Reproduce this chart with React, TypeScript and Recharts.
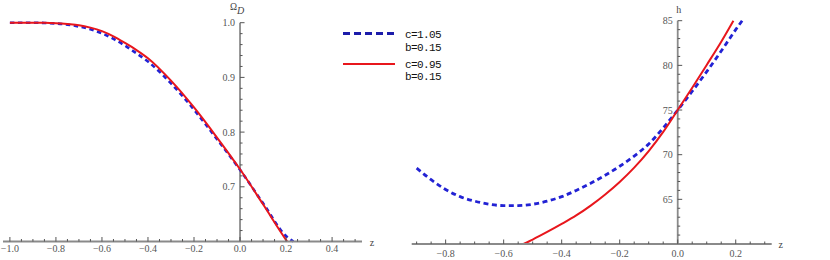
import React from 'react';
import { LineChart, Line, XAxis, YAxis, ReferenceLine, ReferenceDot, Legend } from 'recharts';

// ---- Left panel: Omega_D vs z ----
const zLeftBlue = [-1.0, -0.9, -0.85, -0.8, -0.75, -0.7, -0.65, -0.6, -0.55, -0.5, -0.45, -0.4, -0.3, -0.2, -0.1, 0.0, 0.1, 0.2, 0.232];
const omegaBlue = [1.0, 1.0, 0.9995, 0.9985, 0.9965, 0.993, 0.988, 0.9805, 0.9705, 0.958, 0.944, 0.929, 0.889, 0.841, 0.787, 0.731, 0.670, 0.610, 0.6];
const zLeftRed = [-1.0, -0.9, -0.85, -0.8, -0.75, -0.7, -0.65, -0.6, -0.55, -0.5, -0.45, -0.4, -0.3, -0.2, -0.1, 0.0, 0.1, 0.2, 0.205];
const omegaRed = [1.0, 1.0, 0.9998, 0.999, 0.9975, 0.9955, 0.991, 0.9845, 0.975, 0.963, 0.950, 0.935, 0.894, 0.845, 0.790, 0.732, 0.668, 0.603, 0.6];

// ---- Right panel: h vs z ----
const zRightBlue = [-0.9, -0.85, -0.8, -0.75, -0.7, -0.65, -0.6, -0.55, -0.5, -0.45, -0.4, -0.35, -0.3, -0.25, -0.2, -0.15, -0.1, -0.05, 0.0, 0.05, 0.1, 0.15, 0.2, 0.222];
const hBlue = [68.5, 67.2, 66.1, 65.3, 64.8, 64.45, 64.3, 64.3, 64.45, 64.8, 65.3, 66.0, 66.8, 67.7, 68.7, 69.85, 71.2, 73.0, 75.0, 77.1, 79.3, 81.6, 84.0, 85.0];
const zRightRed = [-0.532, -0.5, -0.45, -0.4, -0.35, -0.3, -0.25, -0.2, -0.15, -0.1, -0.05, 0.0, 0.05, 0.1, 0.15, 0.192];
const hRed = [60.0, 60.5, 61.35, 62.25, 63.2, 64.3, 65.55, 66.95, 68.55, 70.4, 72.55, 75.0, 77.5, 80.05, 82.65, 85.0];

// ---- Ticks ----
const leftXMajor = [-1.0, -0.8, -0.6, -0.4, -0.2, 0.0, 0.2, 0.4];
const leftYMajor = [0.7, 0.8, 0.9, 1.0];
const rightXMajor = [-0.8, -0.6, -0.4, -0.2, 0.0, 0.2];
const rightYMajor = [65, 70, 75, 80, 85];

const legendLabels = [
  ['c=1.05', 'b=0.15'],
  ['c=0.95', 'b=0.15'],
];

const range = (a: number, b: number, step: number) => {
  const out: number[] = [];
  const n = Math.round((b - a) / step);
  for (let i = 0; i <= n; i++) out.push(Math.round((a + i * step) * 1000) / 1000);
  return out;
};
const leftXTicks = range(-1.0, 0.5, 0.05);
const leftYTicks = range(0.62, 1.0, 0.02);
const rightXTicks = range(-0.9, 0.3, 0.05);
const rightYTicks = range(61, 85, 1);

const pts = (xs: number[], ys: number[]) => xs.map((z, i) => ({ z, v: ys[i] }));

const BLUE = '#2222d4';
const RED = '#e8161c';
const AXIS = '#8a8a8a';
const TICK = '#555';
const LABEL = '#555';
const serifStyle = { fontFamily: '"Liberation Serif", "DejaVu Serif", serif' };
const monoStyle = { fontFamily: '"Liberation Mono", "DejaVu Sans Mono", monospace' };

const isIn = (arr: number[], v: number) => arr.some((m) => Math.abs(m - v) < 1e-6);
const fmt1 = (v: number) => (v < 0 ? '\u2212' : '') + Math.abs(v).toFixed(1);

const makeXTick = (majors: number[], labelDy: number) => (props: any) => {
  const { x, y, payload } = props;
  const v = payload.value;
  const major = isIn(majors, v);
  return (
    <g>
      <line x1={x} x2={x} y1={y} y2={y - (major ? 4.5 : 2.5)} stroke={TICK} strokeWidth={1} />
      {major && (
        <text x={x} y={y + labelDy} textAnchor="middle" fontSize={10} fill={LABEL} style={serifStyle}>
          {fmt1(v)}
        </text>
      )}
    </g>
  );
};

const makeYTick = (major: boolean, label: string) => (props: any) => {
  const { cx, cy } = props;
  return (
    <g>
      <line x1={cx} x2={cx + (major ? 4.5 : 2.5)} y1={cy} y2={cy} stroke={TICK} strokeWidth={1} />
      {major && (
        <text x={cx - 5} y={cy + 3.5} textAnchor="end" fontSize={10} fill={LABEL} style={serifStyle}>
          {label}
        </text>
      )}
    </g>
  );
};

const LegendBox = () => (
  <svg width={120} height={62}>
    <line x1={3} x2={55} y1={9.5} y2={9.5} stroke="#1c1caa" strokeWidth={3} strokeDasharray="7 4" />
    <line x1={3} x2={55} y1={40} y2={40} stroke={RED} strokeWidth={2} />
    <text x={65} y={14} fontSize={11} fill="#111" letterSpacing={-0.6} style={monoStyle}>{legendLabels[0][0]}</text>
    <text x={65} y={26.5} fontSize={11} fill="#111" letterSpacing={-0.6} style={monoStyle}>{legendLabels[0][1]}</text>
    <text x={65} y={43.5} fontSize={11} fill="#111" letterSpacing={-0.6} style={monoStyle}>{legendLabels[1][0]}</text>
    <text x={65} y={56} fontSize={11} fill="#111" letterSpacing={-0.6} style={monoStyle}>{legendLabels[1][1]}</text>
  </svg>
);

export default function App() {
  return (
    <div style={{ position: 'absolute', left: 0, top: 0, width: 830, height: 260, background: '#fff' }}>
      <div style={{ position: 'absolute', left: 0, top: 0 }}>
        <LineChart width={375} height={260} margin={{ top: 22.7, right: 13, bottom: 2.5, left: 3 }}>
          <XAxis
            type="number"
            dataKey="z"
            domain={[-1.03, 0.53]}
            ticks={leftXTicks}
            interval={0}
            tickSize={0}
            tickMargin={0}
            tickLine={false}
            axisLine={{ stroke: AXIS, strokeWidth: 1.8 }}
            tick={makeXTick(leftXMajor, 10)}
            height={16}
          />
          <YAxis type="number" dataKey="v" domain={[0.6, 1.0]} hide />
          <ReferenceLine x={0} stroke={AXIS} strokeWidth={1.8} />
          {leftYTicks.map((v) => (
            <ReferenceDot key={'ly' + v} x={0} y={v} r={0} shape={makeYTick(isIn(leftYMajor, v), v.toFixed(1))} />
          ))}
          <ReferenceDot
            x={0}
            y={1.0}
            r={0}
            shape={(p: any) => (
              <text x={p.cx - 10} y={p.cy - 13} fontSize={9.5} fill="#444" style={serifStyle}>
                Ω
                <tspan dy={4.5} fontStyle="italic" fontSize={10}>D</tspan>
              </text>
            )}
          />
          <ReferenceDot
            x={0.53}
            y={0.6}
            r={0}
            shape={(p: any) => (
              <text x={p.cx + 10} y={p.cy + 4} textAnchor="middle" fontSize={10} fill="#444" style={serifStyle}>
                z
              </text>
            )}
          />
          <Line
            data={pts(zLeftBlue, omegaBlue)}
            dataKey="v"
            type="monotone"
            stroke={BLUE}
            strokeWidth={2.6}
            strokeDasharray="4.5 3.5"
            dot={false}
            isAnimationActive={false}
          />
          <Line
            data={pts(zLeftRed, omegaRed)}
            dataKey="v"
            type="monotone"
            stroke={RED}
            strokeWidth={2}
            dot={false}
            isAnimationActive={false}
          />
          <Legend
            layout="horizontal"
            align="center"
            verticalAlign="middle"
            content={() => <LegendBox />}
            wrapperStyle={{ position: 'absolute', left: 340, top: 24, width: 120, height: 62 }}
          />
        </LineChart>
      </div>
      <div style={{ position: 'absolute', left: 400, top: 0 }}>
        <LineChart width={430} height={260} margin={{ top: 20.7, right: 58.3, bottom: 2, left: 11.7 }}>
          <XAxis
            type="number"
            dataKey="z"
            domain={[-0.917, 0.324]}
            ticks={rightXTicks}
            interval={0}
            tickSize={0}
            tickMargin={0}
            tickLine={false}
            axisLine={{ stroke: AXIS, strokeWidth: 1.8 }}
            tick={makeXTick(rightXMajor, 13)}
            height={14}
          />
          <YAxis type="number" dataKey="v" domain={[60, 85]} hide />
          <ReferenceLine x={0} stroke={AXIS} strokeWidth={1.8} />
          {rightYTicks.map((v) => (
            <ReferenceDot key={'ry' + v} x={0} y={v} r={0} shape={makeYTick(isIn(rightYMajor, v), String(v))} />
          ))}
          <ReferenceDot
            x={0}
            y={85}
            r={0}
            shape={(p: any) => (
              <text x={p.cx + 1} y={p.cy - 8} textAnchor="middle" fontSize={10} fill="#444" style={serifStyle}>
                h
              </text>
            )}
          />
          <ReferenceDot
            x={0.324}
            y={60}
            r={0}
            shape={(p: any) => (
              <text x={p.cx + 9} y={p.cy + 4} textAnchor="middle" fontSize={10} fill="#444" style={serifStyle}>
                z
              </text>
            )}
          />
          <Line
            data={pts(zRightBlue, hBlue)}
            dataKey="v"
            type="monotone"
            stroke={BLUE}
            strokeWidth={2.8}
            strokeDasharray="5 3.5"
            dot={false}
            isAnimationActive={false}
          />
          <Line
            data={pts(zRightRed, hRed)}
            dataKey="v"
            type="monotone"
            stroke={RED}
            strokeWidth={2}
            dot={false}
            isAnimationActive={false}
          />
        </LineChart>
      </div>
    </div>
  );
}
